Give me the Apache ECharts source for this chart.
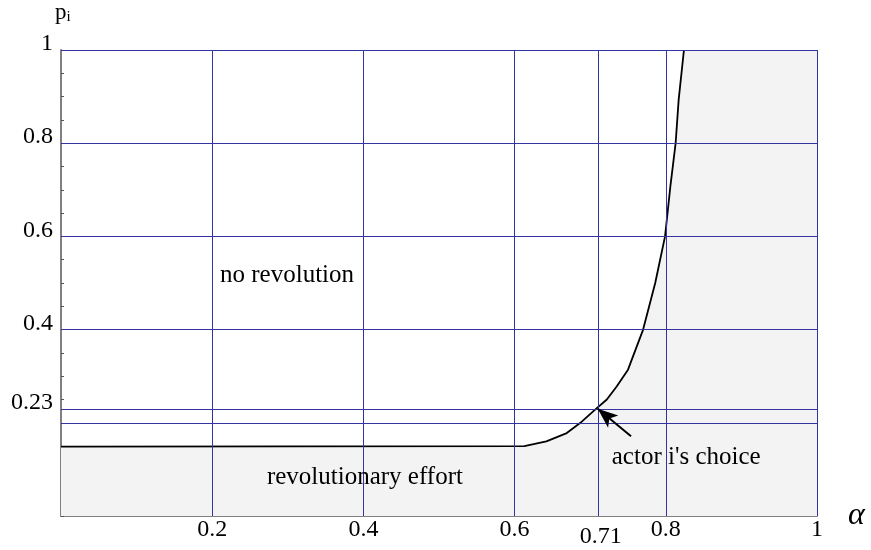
<!DOCTYPE html>
<html>
<head>
<meta charset="utf-8">
<script src="https://cdn.jsdelivr.net/npm/echarts@6/dist/echarts.min.js"></script>
<style>html,body{margin:0;padding:0;background:#fff}#c{width:871px;height:550px}</style>
</head>
<body>
<div id="c"></div>
<script>
// ---- data ----
const curveX = [0, 0.613, 0.625, 0.642, 0.669, 0.687, 0.705, 0.722, 0.735, 0.750, 0.770, 0.786, 0.799, 0.806, 0.813, 0.817, 0.824];
const curveY = [0.149, 0.150, 0.154, 0.160, 0.178, 0.200, 0.226, 0.250, 0.278, 0.314, 0.400, 0.500, 0.600, 0.707, 0.800, 0.893, 1.000];
const xGridLines = [0.2, 0.4, 0.6, 0.71, 0.8, 1];
const yGridLines = [0.2, 0.23, 0.4, 0.6, 0.8, 1];
const xTickLabels = [0.2, 0.4, 0.6, 0.71, 0.8, 1];
const yTickLabels = [0.23, 0.4, 0.6, 0.8, 1];
const arrowTail = [0.754, 0.171];
const arrowHead = [0.71, 0.23];
const notes = [
  {text: 'no revolution', at: [0.299, 0.517]},
  {text: 'revolutionary effort', at: [0.402, 0.082]},
  {text: "actor i's choice", at: [0.827, 0.125]}
];

const FONT = 'Liberation Serif';
const minorTicks = [];
for (let i = 0; i <= 20; i++) minorTicks.push(+(i * 0.05).toFixed(2));

const curve = curveX.map((x, i) => [x, curveY[i]]);
const fillData = curve.concat([[1, 1]]);

const gridColor = '#3434a0';

const chart = echarts.init(document.getElementById('c'), null, {renderer: 'canvas'});
chart.setOption({
  animation: false,
  backgroundColor: '#fff',
  grid: {left: 61, right: 54, top: 50, bottom: 34, containLabel: false, outerBoundsMode: 'none'},
  xAxis: {
    type: 'value', min: 0, max: 1,
    axisLine: {show: true, onZero: false, lineStyle: {color: '#808080', width: 2}},
    axisTick: {show: true, inside: true, length: 3, customValues: minorTicks, lineStyle: {color: '#555', width: 1}},
    axisLabel: {
      show: true, customValues: xTickLabels, margin: 2,
      fontFamily: FONT, fontSize: 24, color: '#000',
      formatter: v => Math.abs(v - 0.71) < 1e-6 ? '{low|0.71}' : '{n|' + v + '}',
      rich: {n: {fontFamily: FONT, fontSize: 24, color: '#000'},
             low: {fontFamily: FONT, fontSize: 24, color: '#000', padding: [7, 0, 0, 6]}}
    },
    splitLine: {show: false}
  },
  yAxis: {
    type: 'value', min: 0, max: 1,
    axisLine: {show: true, onZero: false, lineStyle: {color: '#808080', width: 2}},
    axisTick: {show: true, inside: true, length: 3, customValues: minorTicks, lineStyle: {color: '#555', width: 1}},
    axisLabel: {
      show: true, customValues: yTickLabels, margin: 8, verticalAlign: 'bottom', lineHeight: 12,
      fontFamily: FONT, fontSize: 24, color: '#000',
      formatter: v => String(v)
    },
    splitLine: {show: false}
  },
  graphic: [
    {type: 'text', left: 55, top: 1, z: 10, style: {
      text: '{p|p}{i|i}', fill: '#000',
      rich: {p: {fontFamily: FONT, fontSize: 23, fill: '#000'}, i: {fontFamily: FONT, fontSize: 15, fill: '#000', padding: [9, 0, 0, 0]}}
    }},
    {type: 'text', left: 848, top: 500, z: 10, style: {
      text: 'α', fontFamily: FONT, fontStyle: 'italic', fontSize: 32, fill: '#000'
    }}
  ],
  series: [
    {
      type: 'line', data: fillData, symbol: 'none', silent: true, z: 1,
      lineStyle: {width: 0, opacity: 0},
      areaStyle: {color: '#f3f3f3', opacity: 1}
    },
    {
      type: 'line', data: [], symbol: 'none', silent: true, z: 2,
      markLine: {
        silent: true, symbol: ['none', 'none'], animation: false,
        label: {show: false},
        lineStyle: {color: gridColor, width: 1, type: 'solid'},
        data: xGridLines.map(v => ({xAxis: v})).concat(yGridLines.map(v => ({yAxis: v})))
      }
    },
    {
      type: 'line', data: curve, symbol: 'none', silent: true, z: 3,
      lineStyle: {color: '#000', width: 1.8}
    },
    {
      type: 'line', data: [], symbol: 'none', silent: true, z: 4,
      markLine: {
        silent: true, symbol: ['none', 'arrow'], symbolSize: [12, 20], animation: false,
        label: {show: false},
        lineStyle: {color: '#000', width: 2, type: 'solid'},
        data: [[{coord: arrowTail}, {coord: arrowHead}]]
      },
      markPoint: {
        silent: true, symbol: 'circle', symbolSize: 0, animation: false,
        label: {show: true, position: 'inside', fontFamily: FONT, fontSize: 25, color: '#000',
                formatter: p => p.name},
        data: notes.map(n => ({name: n.text, coord: n.at}))
      }
    }
  ]
});
</script>
</body>
</html>
